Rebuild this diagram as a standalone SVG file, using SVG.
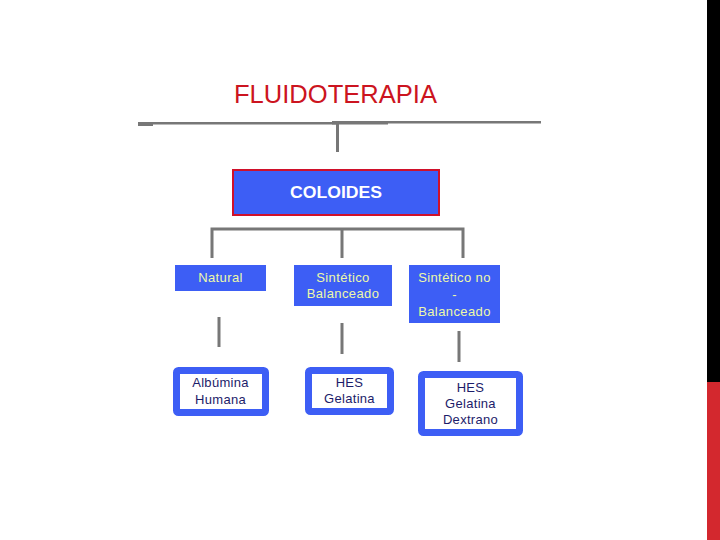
<svg xmlns="http://www.w3.org/2000/svg" width="720" height="540" viewBox="0 0 720 540">
<style>
.ln{stroke:#777777;stroke-width:3;fill:none}
.blue{fill:#3d5ef5}
.bt{font-family:"Liberation Sans",Arial,sans-serif;font-size:13px;fill:#eef9a8;text-anchor:middle;letter-spacing:0.4px}
.wb{fill:#ffffff;stroke:#3d5ef5;stroke-width:7}
.wt{font-family:"Liberation Sans",Arial,sans-serif;font-size:13px;fill:#1c1c6a;text-anchor:middle;letter-spacing:0.3px}
</style>
<rect width="720" height="540" fill="#ffffff"/>
<rect x="707" y="0" width="13" height="382" fill="#000000"/>
<rect x="707" y="382" width="13" height="158" fill="#d3282e"/>

<g id="title">
<text x="335.5" y="103" font-family="'Liberation Sans',Arial,sans-serif" font-size="25" fill="#cc1420" text-anchor="middle" textLength="203" lengthAdjust="spacingAndGlyphs">FLUIDOTERAPIA</text>
</g>

<g id="connectors">
<line x1="138" y1="123.3" x2="337" y2="123.3" stroke="#777777" stroke-width="2.5"/>
<line x1="332" y1="122.3" x2="541" y2="122.3" stroke="#777777" stroke-width="2.5"/>
<rect x="138" y="122" width="15" height="4" fill="#777777"/>
<rect x="332" y="121" width="56" height="3.5" fill="#777777"/>
<line class="ln" x1="337.5" y1="122" x2="337.5" y2="152"/>
<polyline class="ln" points="212,258 212,229 463,229 463,258"/>
<line class="ln" x1="342" y1="229" x2="342" y2="258"/>
<line class="ln" x1="219" y1="317" x2="219" y2="347"/>
<line class="ln" x1="342" y1="323" x2="342" y2="354"/>
<line class="ln" x1="459" y1="331" x2="459" y2="362"/>
</g>

<g id="coloides">
<rect x="233" y="170" width="206" height="45" fill="#3d5ef5" stroke="#d0102a" stroke-width="2"/>
<text x="336" y="198" font-family="'Liberation Sans',Arial,sans-serif" font-size="17" font-weight="bold" fill="#ffffff" text-anchor="middle" textLength="92" lengthAdjust="spacingAndGlyphs">COLOIDES</text>
</g>

<g id="natural">
<rect class="blue" x="175" y="265" width="91" height="26"/>
<text class="bt" x="220.5" y="282">Natural</text>
</g>

<g id="sintetico-balanceado">
<rect class="blue" x="294" y="265" width="98" height="41"/>
<text class="bt" x="343" y="282">Sintético</text>
<text class="bt" x="343" y="298">Balanceado</text>
</g>

<g id="sintetico-no-balanceado">
<rect class="blue" x="409" y="265" width="91" height="58"/>
<text class="bt" x="454.5" y="282">Sintético no</text>
<text class="bt" x="454.5" y="299">-</text>
<text class="bt" x="454.5" y="316">Balanceado</text>
</g>

<g id="albumina">
<rect class="wb" x="176.5" y="370.5" width="89" height="42" rx="2"/>
<text class="wt" x="220.5" y="387">Albúmina</text>
<text class="wt" x="220.5" y="404">Humana</text>
</g>

<g id="hes-gelatina">
<rect class="wb" x="308.5" y="370.5" width="82" height="41" rx="2"/>
<text class="wt" x="349.5" y="387">HES</text>
<text class="wt" x="349.5" y="403">Gelatina</text>
</g>

<g id="hes-gelatina-dextrano">
<rect class="wb" x="421.5" y="374.5" width="98" height="58" rx="2"/>
<text class="wt" x="470.5" y="392">HES</text>
<text class="wt" x="470.5" y="408">Gelatina</text>
<text class="wt" x="470.5" y="424">Dextrano</text>
</g>
</svg>
